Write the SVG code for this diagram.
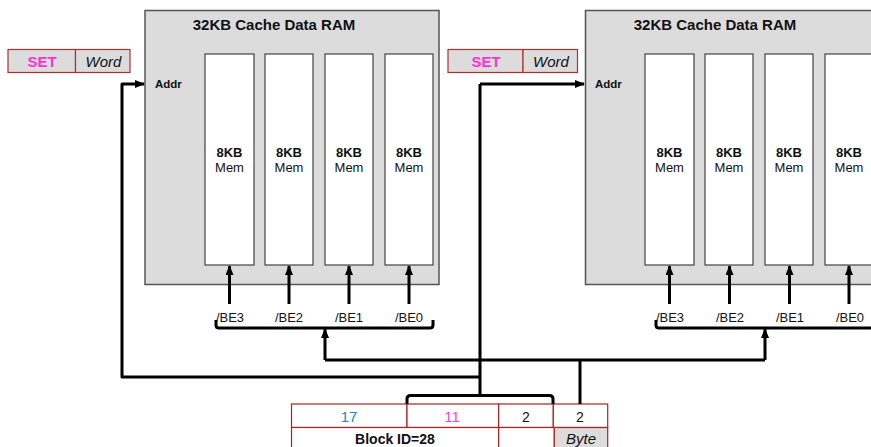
<svg xmlns="http://www.w3.org/2000/svg" width="871" height="447" viewBox="0 0 871 447">
<style>
.ram{fill:#dcdcdc;stroke:#555;stroke-width:1.5}
.mem{fill:#fff;stroke:#444;stroke-width:1.2}
.t{font-family:"Liberation Sans",Arial,sans-serif;fill:#111}
.title{font-size:15px;font-weight:bold;text-anchor:middle}
.addr{font-size:11.5px;font-weight:bold}
.kb{font-size:13px;font-weight:bold;text-anchor:middle}
.mm{font-size:13px;text-anchor:middle}
.be{font-size:13px;text-anchor:middle}
.fld{fill:#dcdcdc;stroke:#b03030;stroke-width:1.2}
.cell{fill:#fff;stroke:#b02020;stroke-width:1.2}
.set{font-size:15px;font-weight:bold;fill:#ff33cc;text-anchor:middle}
.it{font-size:15px;font-style:italic;text-anchor:middle}
.tb{font-size:14px;text-anchor:middle}
.w{fill:none;stroke:#000;stroke-width:3;stroke-linejoin:round}
</style>
<defs>
<marker id="ah" markerWidth="10" markerHeight="8" refX="9" refY="4" orient="auto" markerUnits="userSpaceOnUse">
<path d="M0,0 L10,4 L0,8 z" fill="#000"/>
</marker>
</defs>

<g id="ram1">
<rect class="ram" x="145" y="10.5" width="294" height="274"/>
<text class="t title" x="274" y="30">32KB Cache Data RAM</text>
<text class="t addr" x="155" y="88">Addr</text>
<rect class="mem" x="205" y="54" width="49" height="211"/>
<rect class="mem" x="265" y="54" width="48" height="211"/>
<rect class="mem" x="325" y="54" width="48" height="211"/>
<rect class="mem" x="385" y="54" width="48" height="211"/>
<text class="t kb" x="229.5" y="157">8KB</text><text class="t mm" x="229.5" y="172">Mem</text>
<text class="t kb" x="289" y="157">8KB</text><text class="t mm" x="289" y="172">Mem</text>
<text class="t kb" x="349" y="157">8KB</text><text class="t mm" x="349" y="172">Mem</text>
<text class="t kb" x="409" y="157">8KB</text><text class="t mm" x="409" y="172">Mem</text>
</g>

<g id="ram2">
<rect class="ram" x="585.5" y="10.5" width="300" height="274"/>
<text class="t title" x="715" y="30">32KB Cache Data RAM</text>
<text class="t addr" x="595" y="88">Addr</text>
<rect class="mem" x="645" y="54" width="49" height="211"/>
<rect class="mem" x="705" y="54" width="48" height="211"/>
<rect class="mem" x="765" y="54" width="48" height="211"/>
<rect class="mem" x="825" y="54" width="60" height="211"/>
<text class="t kb" x="669.5" y="157">8KB</text><text class="t mm" x="669.5" y="172">Mem</text>
<text class="t kb" x="729" y="157">8KB</text><text class="t mm" x="729" y="172">Mem</text>
<text class="t kb" x="789" y="157">8KB</text><text class="t mm" x="789" y="172">Mem</text>
<text class="t kb" x="849" y="157">8KB</text><text class="t mm" x="849" y="172">Mem</text>
</g>

<g id="setword1">
<rect class="fld" x="8" y="49.5" width="67.5" height="23"/>
<rect class="fld" x="75.5" y="49.5" width="54.5" height="23"/>
<text class="t set" x="42" y="67">SET</text>
<text class="t it" x="103.5" y="67">Word</text>
</g>

<g id="setword2">
<rect class="fld" x="448" y="49.5" width="75" height="23"/>
<rect class="fld" x="523" y="49.5" width="54.5" height="23"/>
<text class="t set" x="486" y="67">SET</text>
<text class="t it" x="551" y="67">Word</text>
</g>

<g id="be1">
<text class="t be" x="230" y="321.5">/BE3</text>
<text class="t be" x="289" y="321.5">/BE2</text>
<text class="t be" x="349" y="321.5">/BE1</text>
<text class="t be" x="409" y="321.5">/BE0</text>
</g>
<g id="be2">
<text class="t be" x="670" y="321.5">/BE3</text>
<text class="t be" x="730" y="321.5">/BE2</text>
<text class="t be" x="790" y="321.5">/BE1</text>
<text class="t be" x="850" y="321.5">/BE0</text>
</g>

<g id="address">
<rect class="cell" x="291.5" y="404" width="115.5" height="23.5"/>
<rect class="cell" x="407" y="404" width="91.7" height="23.5"/>
<rect class="cell" x="498.7" y="404" width="54.6" height="23.5"/>
<rect class="cell" x="553.3" y="404" width="54.4" height="23.5"/>
<rect class="cell" x="291.5" y="427.5" width="207.2" height="25"/>
<rect class="cell" x="498.7" y="427.5" width="55.6" height="25"/>
<rect class="cell" x="554.3" y="427.5" width="53.4" height="25" style="fill:#dcdcdc"/>
<text class="t tb" x="349" y="421.5" style="fill:#2a7fd0;font-size:15px">17</text>
<text class="t tb" x="452" y="421.5" style="fill:#ff40dd;font-size:15px">11</text>
<text class="t tb" x="526" y="421.5">2</text>
<text class="t tb" x="580" y="421.5">2</text>
<text class="t" x="395" y="444" style="font-size:14px;font-weight:bold;text-anchor:middle">Block ID=28</text>
<text class="t it" x="581" y="444">Byte</text>
</g>

<g id="connectors">
<line class="w" x1="229.5" y1="304" x2="229.5" y2="266" marker-end="url(#ah)"/>
<line class="w" x1="289" y1="304" x2="289" y2="266" marker-end="url(#ah)"/>
<line class="w" x1="349" y1="304" x2="349" y2="266" marker-end="url(#ah)"/>
<line class="w" x1="409" y1="304" x2="409" y2="266" marker-end="url(#ah)"/>
<line class="w" x1="669.5" y1="304" x2="669.5" y2="266" marker-end="url(#ah)"/>
<line class="w" x1="729.5" y1="304" x2="729.5" y2="266" marker-end="url(#ah)"/>
<line class="w" x1="789.5" y1="304" x2="789.5" y2="266" marker-end="url(#ah)"/>
<line class="w" x1="849" y1="304" x2="849" y2="266" marker-end="url(#ah)"/>
<path class="w" d="M216,320 L216,325 Q216,328 219,328 L430,328 Q433,328 433,325 L433,320"/>
<path class="w" d="M656,320 L656,325 Q656,328 659,328 L875,328"/>
<path class="w" d="M580,404 L580,360"/>
<path class="w" d="M325,360 L765,360"/>
<line class="w" x1="325" y1="360" x2="325" y2="329" marker-end="url(#ah)"/>
<line class="w" x1="765" y1="360" x2="765" y2="329" marker-end="url(#ah)"/>
<path class="w" d="M407,404 L407,399 Q407,395.5 410.5,395.5 L549.5,395.5 Q553,395.5 553,399 L553,404"/>
<path class="w" d="M480,395.5 L480,84"/>
<path class="w" d="M480,377 L122,377 L122,84 L144,84" marker-end="url(#ah)"/>
<path class="w" d="M480,84 L584,84" marker-end="url(#ah)"/>
</g>
</svg>
